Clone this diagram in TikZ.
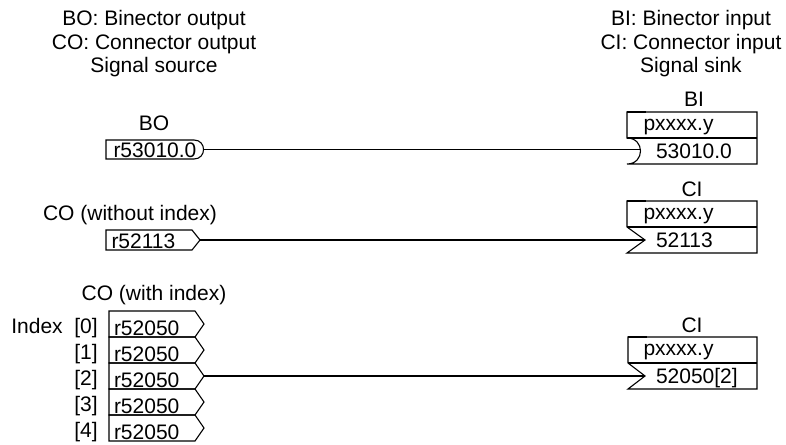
\documentclass[tikz,border=0pt]{standalone}
\usepackage{fontspec}
\setmainfont{Liberation Sans}
\begin{document}
\begin{tikzpicture}[x=1pt,y=-1pt,line width=1.1pt,
  txt/.style={font=\fontsize{21}{24}\selectfont,inner sep=0pt,outer sep=0pt},
  lbl/.style={txt,anchor=base},
  lft/.style={txt,anchor=base west},
  box/.style={draw,line join=miter},
  wire/.style={draw},
  thickcorner/.style={line width=2.6pt}]
\useasboundingbox (0,0) rectangle (786,444);

% headers
\node[lbl] (hl1) at (154,25.5) {BO: Binector output};
\node[lbl] (hl2) at (154,49) {CO: Connector output};
\node[lbl] (hl3) at (154,72.5) {Signal source};
\node[lbl] (hr1) at (691,25.5) {BI: Binector input};
\node[lbl] (hr2) at (691,49) {CI: Connector input};
\node[lbl] (hr3) at (691,72.5) {Signal sink};

% BO
\node[lbl] (bolbl) at (154,130.5) {BO};
\draw[box] (106,140) -- (194,140) .. controls (206.7,140) and (206.7,159) .. (194,159) -- (106,159) -- cycle;
\node[lft] (botxt) at (113.5,157) {r53010.0};
\coordinate (boout) at (203.5,149.5);

% BI
\node[lbl] (bilbl) at (694,106) {BI};
\draw[box] (627,138) -- (627,112) -- (757,112) -- (757,164) -- (627,164) .. controls (645,164) and (645,138) .. (627,138) -- cycle;
\draw[box] (627,138) -- (757,138);
\draw[thickcorner] (627,112) -- (646,112);
\node[lft] (bip) at (643.5,130) {pxxxx.y};
\node[lft] (biv) at (656,158.5) {53010.0};
\coordinate (biin) at (640.3,149.5);
\draw[wire] (boout) -- (biin);

% CO without index
\node[lbl] (co1lbl) at (130,220.5) {CO (without index)};
\draw[box] (106,230) -- (192,230) -- (200,240) -- (192,250) -- (106,250) -- cycle;
\node[lft] (co1txt) at (111.5,248) {r52113};
\coordinate (co1out) at (200,240);

% CI 1
\node[lbl] (ci1lbl) at (692,196) {CI};
\draw[box] (627,227) -- (627,201) -- (757,201) -- (757,253) -- (627,253) -- (645,240) -- cycle;
\draw[box] (627,227) -- (757,227);
\draw[thickcorner] (627,201) -- (646,201);
\node[lft] (ci1p) at (643.5,219) {pxxxx.y};
\node[lft] (ci1v) at (656,247.5) {52113};
\coordinate (ci1in) at (645,240);
\draw[wire] (co1out) -- (ci1in);

% CO with index
\node[lbl] (co2lbl) at (154,300.5) {CO (with index)};
\node[lbl] (idx) at (37,333) {Index};
\foreach \i in {0,...,4} {
  \pgfmathsetmacro\t{311+26*\i}
  \draw[box] (109,\t) -- (195,\t) -- (204,\t+13) -- (195,\t+26) -- (109,\t+26) -- cycle;
  \node[lbl] (ix\i) at (86,\t+22) {[\i]};
  \node[lft] (cotxt\i) at (114,\t+24) {r52050};
  \coordinate (coout\i) at (204,\t+13);
}

% CI 3
\node[lbl] (ci3lbl) at (692,332) {CI};
\draw[box] (628,363) -- (628,337) -- (757,337) -- (757,389) -- (628,389) -- (645,376) -- cycle;
\draw[box] (628,363) -- (757,363);
\draw[thickcorner] (628,337) -- (647,337);
\node[lft] (ci3p) at (643.5,355) {pxxxx.y};
\node[lft] (ci3v) at (656,383.5) {52050[2]};
\coordinate (ci3in) at (645,376);
\draw[wire] (coout2) -- (ci3in);
\end{tikzpicture}
\end{document}
